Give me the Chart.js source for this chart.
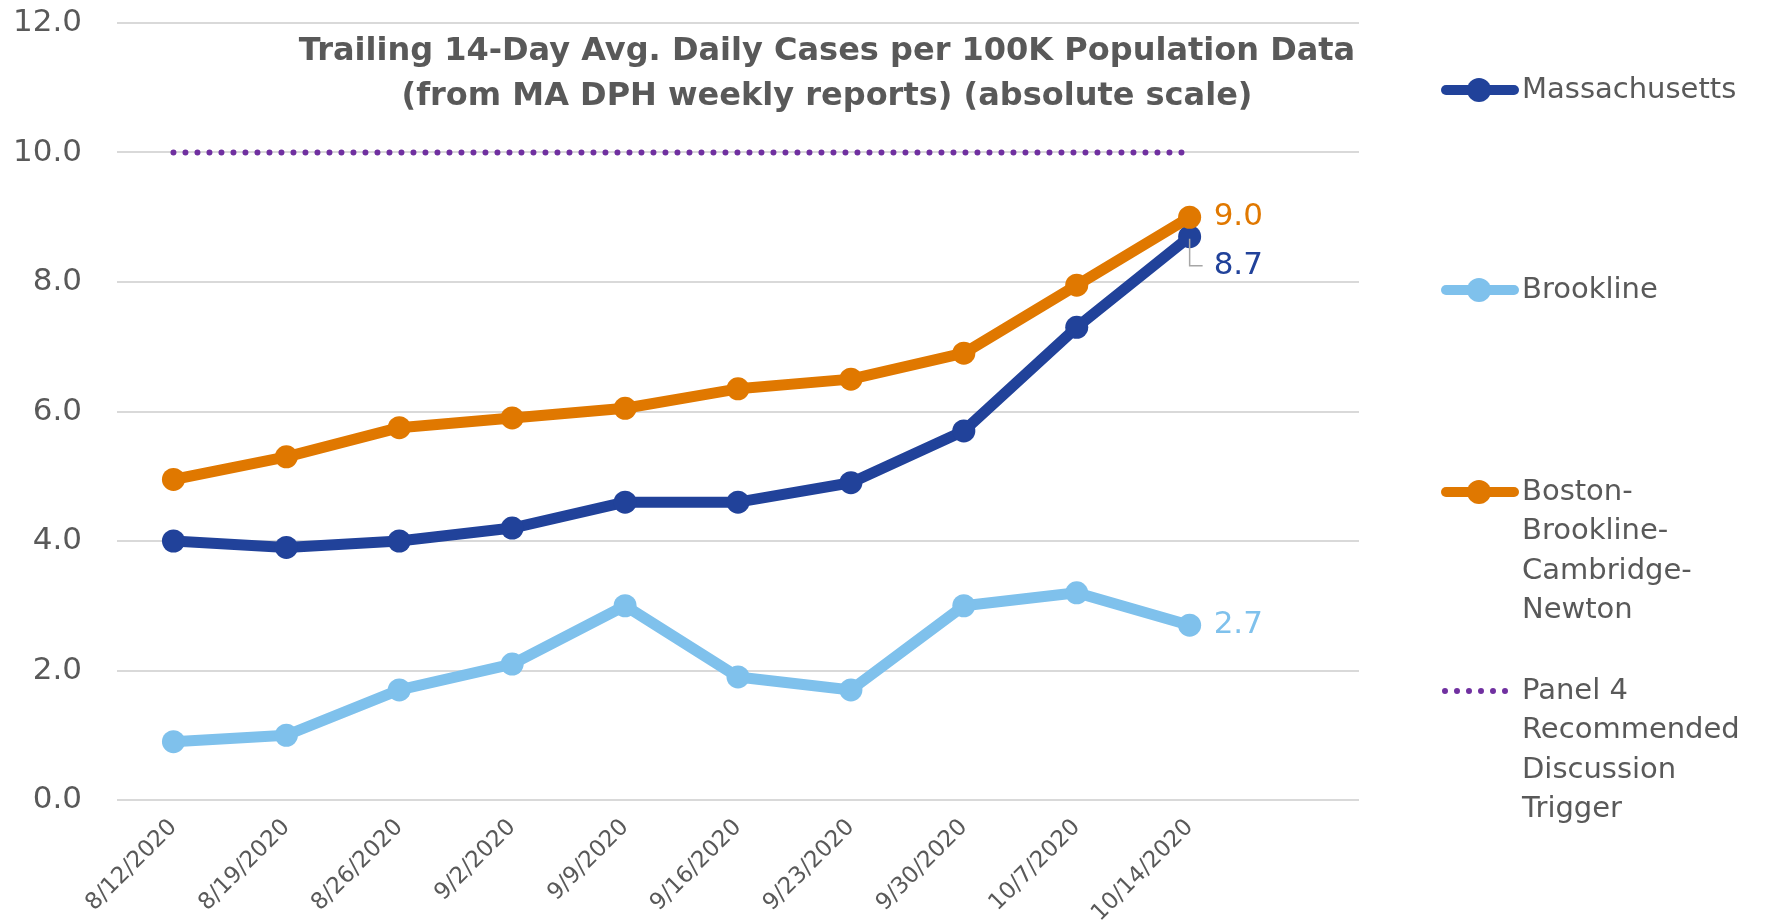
<!DOCTYPE html>
<html>
<head>
<meta charset="utf-8">
<script src="https://cdn.jsdelivr.net/npm/chart.js@4.4.0/dist/chart.umd.min.js"></script>
<style>
  html, body { margin: 0; padding: 0; background: #ffffff; }
  #wrap { width: 1785px; height: 921px; }
</style>
</head>
<body>
<div id="wrap"><canvas id="casesChart" width="1785" height="921"></canvas></div>
<script>
// chart data
const weeks = ["8/12/2020", "8/19/2020", "8/26/2020", "9/2/2020", "9/9/2020",
               "9/16/2020", "9/23/2020", "9/30/2020", "10/7/2020", "10/14/2020"];
const massachusetts = [4.0, 3.9, 4.0, 4.2, 4.6, 4.6, 4.9, 5.7, 7.3, 8.7];
const brookline     = [0.9, 1.0, 1.7, 2.1, 3.0, 1.9, 1.7, 3.0, 3.2, 2.7];
const bbcn          = [4.95, 5.3, 5.75, 5.9, 6.05, 6.35, 6.5, 6.9, 7.95, 9.0];
const trigger       = [10, 10, 10, 10, 10, 10, 10, 10, 10, 10];
const seriesNames = ["Massachusetts", "Brookline", "Boston-Brookline-Cambridge-Newton",
                     "Panel 4 Recommended Discussion Trigger"];
const yTicks = [0, 2, 4, 6, 8, 10, 12];
const titleLines = ["Trailing 14-Day Avg. Daily Cases per 100K Population Data",
                    "(from MA DPH weekly reports) (absolute scale)"];

const FONT = '"DejaVu Sans", sans-serif';
const GREY = "#595959";
const colors = { ma: "#21429a", brook: "#7fc1ec", bbcn: "#e07800", trig: "#7030a0" };

// the excel axis had one blank category after the last week
const categories = [...weeks, ""];

// break a legend name into lines that fit the legend column
function wrapName(ctx, name, maxWidth) {
  const pieces = name.match(/[^\s-]+-?\s?/g) || [name];
  const lines = [];
  let cur = "";
  pieces.forEach(p => {
    const test = cur + p;
    if (cur && ctx.measureText(test.trim()).width > maxWidth) {
      lines.push(cur.trim());
      cur = p;
    } else {
      cur = test;
    }
  });
  if (cur) lines.push(cur.trim());
  return lines;
}

// drop the extra room chart.js keeps for half a tick label
function noScalePadding(s) {
  s.paddingTop = 0;
  s.paddingBottom = 0;
}

const overlay = {
  id: "overlay",
  afterDatasetsDraw(chart) {
    const ctx = chart.ctx;
    ctx.save();
    // end-of-line value labels
    ctx.font = "31px " + FONT;
    ctx.textAlign = "left";
    ctx.textBaseline = "middle";
    [0, 1, 2].forEach(i => {
      const ds = chart.data.datasets[i];
      const meta = chart.getDatasetMeta(i);
      const last = ds.data.length - 1;
      const pt = meta.data[last];
      let dy = 0;
      if (i === 0) {
        dy = 29;
        ctx.strokeStyle = "#a6a6a6";
        ctx.lineWidth = 1.5;
        ctx.beginPath();
        ctx.moveTo(pt.x, pt.y + 2);
        ctx.lineTo(pt.x, pt.y + dy);
        ctx.lineTo(pt.x + 13, pt.y + dy);
        ctx.stroke();
      }
      ctx.fillStyle = ds.borderColor;
      ctx.fillText(ds.data[last].toFixed(1), pt.x + 24, pt.y + dy);
    });
    ctx.restore();
  },
  afterDraw(chart) {
    const ctx = chart.ctx;
    ctx.save();
    // title sits inside the plot area
    ctx.font = "bold 32px " + FONT;
    ctx.fillStyle = GREY;
    ctx.textAlign = "center";
    ctx.textBaseline = "middle";
    ctx.fillText(titleLines[0], 827, 52);
    ctx.fillText(titleLines[1], 827, 97);

    // legend on the right
    const tops = [90, 290, 492, 691];
    ctx.font = "29px " + FONT;
    ctx.textAlign = "left";
    chart.data.datasets.forEach((ds, i) => {
      const y = tops[i];
      ctx.strokeStyle = ds.borderColor;
      ctx.lineWidth = ds.borderDash ? ds.borderWidth : 10;
      ctx.lineCap = "round";
      ctx.setLineDash(ds.borderDash || []);
      ctx.beginPath();
      if (ds.borderDash) {
        ctx.moveTo(1445, y);
        ctx.lineTo(1510, y);
      } else {
        ctx.moveTo(1446, y);
        ctx.lineTo(1514, y);
      }
      ctx.stroke();
      ctx.setLineDash([]);
      if (ds.pointRadius > 0) {
        ctx.fillStyle = ds.borderColor;
        ctx.beginPath();
        ctx.arc(1479, y, 12, 0, Math.PI * 2);
        ctx.fill();
      }
      ctx.fillStyle = GREY;
      wrapName(ctx, ds.label, 255).forEach((line, k) => {
        ctx.fillText(line, 1522, y + k * 39.5);
      });
    });
    ctx.restore();
  }
};

const lineStyle = { borderWidth: 11, pointRadius: 11.5, pointBorderWidth: 0,
                    pointHoverRadius: 11.5, tension: 0, borderJoinStyle: "round", fill: false };

new Chart(document.getElementById("casesChart"), {
  type: "line",
  data: {
    labels: categories,
    datasets: [
      { label: seriesNames[0], data: massachusetts, borderColor: colors.ma,
        backgroundColor: colors.ma, order: 2, ...lineStyle },
      { label: seriesNames[1], data: brookline, borderColor: colors.brook,
        backgroundColor: colors.brook, order: 3, ...lineStyle },
      { label: seriesNames[2], data: bbcn, borderColor: colors.bbcn,
        backgroundColor: colors.bbcn, order: 1, ...lineStyle },
      { label: seriesNames[3], data: trigger, borderColor: colors.trig,
        backgroundColor: colors.trig, order: 0, borderWidth: 6, pointRadius: 0,
        borderDash: [0, 12], borderCapStyle: "round", fill: false }
    ]
  },
  options: {
    responsive: false,
    animation: false,
    events: [],
    layout: { padding: { top: 23, right: 426, bottom: 0, left: 0 } },
    plugins: {
      legend: { display: false },
      title: { display: false },
      tooltip: { enabled: false }
    },
    scales: {
      x: {
        offset: true,
        grid: { display: false, drawTicks: false },
        border: { display: false },
        ticks: {
          color: GREY, font: { family: FONT, size: 23 },
          minRotation: 45, maxRotation: 45, padding: 14, autoSkip: false
        },
        afterFit: s => { s.height = 121; noScalePadding(s); }
      },
      y: {
        min: 0, max: 12,
        afterBuildTicks: s => { s.ticks = yTicks.map(v => ({ value: v })); },
        grid: { color: "#d9d9d9", lineWidth: 2, drawTicks: false },
        border: { display: false },
        ticks: {
          color: GREY, font: { family: FONT, size: 31 }, padding: 35,
          callback: v => Number(v).toFixed(1)
        },
        afterFit: s => { s.width = 117; noScalePadding(s); }
      }
    }
  },
  plugins: [overlay]
});
</script>
</body>
</html>
